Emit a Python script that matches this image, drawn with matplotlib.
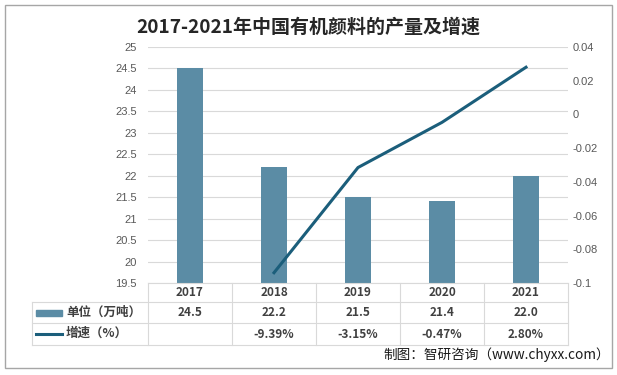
import matplotlib.pyplot as plt
from matplotlib.lines import Line2D
from matplotlib.patches import Rectangle

plt.rcParams['font.family'] = ['Noto Sans CJK SC', 'DejaVu Sans']

years = ['2017', '2018', '2019', '2020', '2021']
output = [24.5, 22.2, 21.5, 21.4, 22.0]           # 单位（万吨）
growth = [None, -0.0939, -0.0315, -0.0047, 0.0280]  # 增速
output_labels = ['24.5', '22.2', '21.5', '21.4', '22.0']
growth_labels = ['', '-9.39%', '-3.15%', '-0.47%', '2.80%']
left_ticks = [19.5, 20, 20.5, 21, 21.5, 22, 22.5, 23, 23.5, 24, 24.5, 25]
right_ticks = [-0.1, -0.08, -0.06, -0.04, -0.02, 0, 0.02, 0.04]

bar_color = '#5B8CA5'
line_color = '#1B5E7B'
grid_color = '#D9D9D9'
text_gray = '#595959'

W, H = 617, 375
fig = plt.figure(figsize=(W / 100, H / 100), dpi=100)


def fx(x):
    return x / W


def fy(y):
    return 1 - y / H


# plot area in pixels
x0, x1, y_top, y_bot = 148, 568, 47, 283
ax = fig.add_axes([fx(x0), fy(y_bot), fx(x1) - fx(x0), fy(y_top) - fy(y_bot)])

xs = list(range(len(years)))
ax.bar(xs, [v - 19.5 for v in output], bottom=19.5, width=0.32, color=bar_color, zorder=2)
ax.set_ylim(19.5, 25)
ax.set_xlim(-0.5, len(years) - 0.5)
ax.set_yticks(left_ticks)
ax.set_yticklabels(['19.5', '20', '20.5', '21', '21.5', '22', '22.5', '23', '23.5', '24', '24.5', '25'],
                   fontfamily=['Liberation Sans', 'DejaVu Sans'])
ax.grid(axis='y', color=grid_color, linewidth=0.8, zorder=0)
ax.set_xticks([])
ax.tick_params(axis='y', length=0, labelsize=8, colors=text_gray, pad=8)
for s in ax.spines.values():
    s.set_visible(False)

ax2 = ax.twinx()
gx = [i for i, g in enumerate(growth) if g is not None]
gy = [g for g in growth if g is not None]
ax2.plot(gx, gy, color=line_color, linewidth=2.2, zorder=3)
ax2.set_ylim(-0.1, 0.04)
ax2.set_yticks(right_ticks)
ax2.set_yticklabels(['-0.1', '-0.08', '-0.06', '-0.04', '-0.02', '0', '0.02', '0.04'],
                    fontfamily=['Liberation Sans', 'DejaVu Sans'])
ax2.tick_params(axis='y', length=0, labelsize=8, colors=text_gray, pad=3)
for s in ax2.spines.values():
    s.set_visible(False)

# data table under the plot
line_kw = dict(color=grid_color, linewidth=0.8)
rows = [283, 302, 323, 345]
fig.add_artist(Line2D([fx(x0), fx(x1)], [fy(283), fy(283)], **line_kw))
for r in rows[1:]:
    fig.add_artist(Line2D([fx(32), fx(x1)], [fy(r), fy(r)], **line_kw))
fig.add_artist(Line2D([fx(32), fx(32)], [fy(302), fy(345)], **line_kw))
cell_w = (x1 - x0) / len(years)
for i in range(len(years) + 1):
    xv = x0 + i * cell_w
    fig.add_artist(Line2D([fx(xv), fx(xv)], [fy(283), fy(345)], **line_kw))

cell_font = dict(fontsize=8.5, fontweight='bold', color='#404040', ha='center', va='center')
for i, y in enumerate(years):
    cx = fx(x0 + (i + 0.5) * cell_w)
    fig.text(cx, fy(292.5), y, **cell_font)
    fig.text(cx, fy(312.5), output_labels[i], **cell_font)
    fig.text(cx, fy(334), growth_labels[i], **cell_font)

fig.add_artist(Rectangle((fx(36), fy(315.5)), fx(26), fy(309.5) - fy(315.5), color=bar_color))
fig.add_artist(Line2D([fx(36), fx(62)], [fy(333.5), fy(333.5)], color=line_color, linewidth=2.2))
fig.text(fx(66), fy(312), '单位（万吨）', fontsize=9, fontweight='bold', color='#404040', va='center')
fig.text(fx(66), fy(333), '增速（%）', fontsize=9, fontweight='bold', color='#404040', va='center')

fig.text(fx(308), fy(27), '2017-2021年中国有机颜料的产量及增速', fontsize=13.7,
         fontweight='bold', color='#262626', ha='center', va='center')
fig.text(fx(610), fy(355), '制图：智研咨询（www.chyxx.com）', fontsize=9.8,
         color='#1a1a1a', ha='right', va='center')

# outer border
fig.add_artist(Rectangle((fx(5), fy(368)), fx(607), fy(5) - fy(368), fill=False,
                         edgecolor='#A6A6A6', linewidth=1))

fig.savefig('out.png', dpi=100)
